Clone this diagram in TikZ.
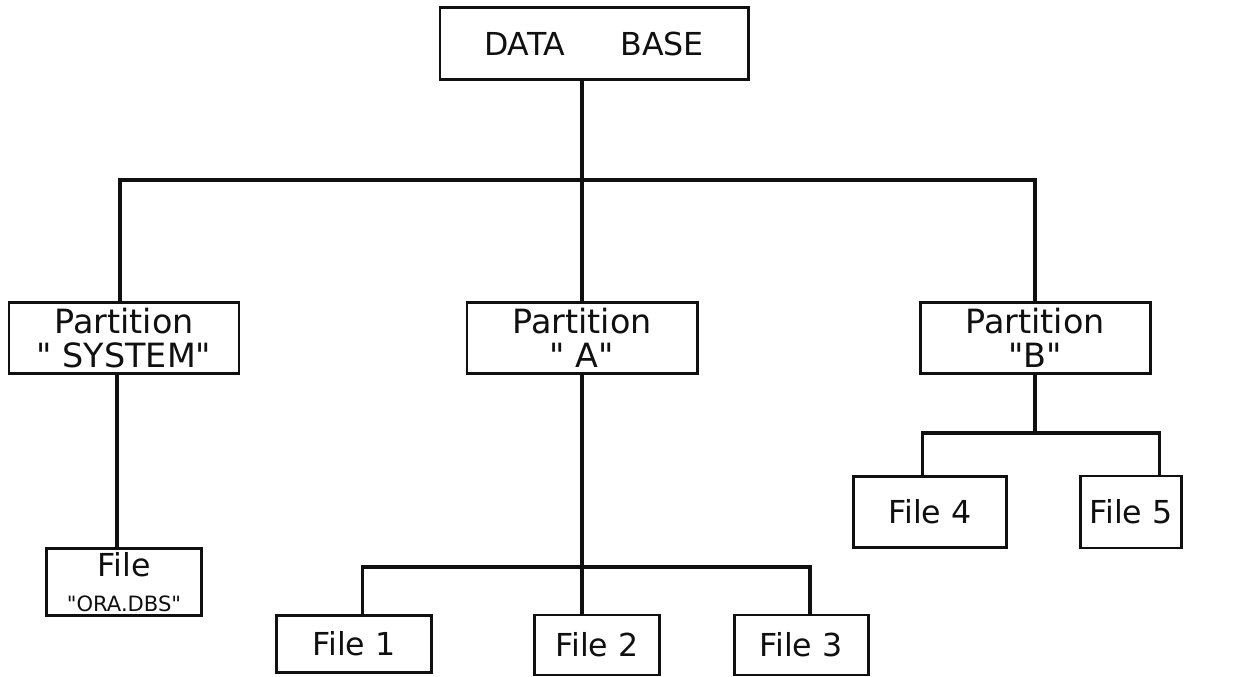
\documentclass[tikz,border=0pt]{standalone}
\usepackage{fontspec}
\newfontfamily\handfont{DejaVu Sans}
\usepackage{tikz}
\usetikzlibrary{positioning}
\usepackage{xcolor}
\definecolor{ink}{HTML}{101010}
\tikzset{
  every node/.style={font=\handfont\fontsize{18}{20}\selectfont,text=ink},
  box/.style={draw=ink,line width=1.7pt,fill=white,align=center,inner sep=2pt},
  dbbox/.style={box,minimum width=61.6mm,minimum height=14.4mm},
  partbox/.style={box,minimum width=46mm,minimum height=14.2mm,font=\handfont\fontsize{19}{19}\selectfont},
  filebox/.style={box,minimum height=12mm},
  link/.style={draw=ink,line width=1.8pt},
}
\newcommand{\smalltag}[1]{{\fontsize{12}{14}\selectfont #1}}

\begin{document}
\begin{tikzpicture}[x=0.2mm,y=-0.2mm]
\useasboundingbox (0,0) rectangle (1244,677);

% root and partitions
\node[dbbox] (db) at (594,44) {DATA\hspace{11mm}BASE};

\node[partbox] (psys) at (124,338) {Partition\\" SYSTEM"};
\node[partbox] (pa) at (582,338) {Partition\\" A"};
\node[partbox] (pb) at (1035,338) {Partition\\"B"};

\coordinate (topbar) at (582,180);
\coordinate (abar) at (582,567);
\coordinate (bbar) at (1035,433);

% files
\node[filebox,minimum width=31mm] (fora) at (124,582) {File\\\smalltag{"ORA.DBS"}};
\node[filebox,minimum width=31mm,minimum height=11.4mm] (f1) at (354,644) {File 1};
\node[filebox,minimum width=25mm] (f2) at (597,645) {File 2};
\node[filebox,minimum width=26.8mm] (f3) at (801,645) {File 3};
\node[filebox,minimum width=30.6mm,minimum height=14.2mm] (f4) at (930,512) {File 4};
\node[filebox,minimum width=20.2mm,minimum height=14.4mm] (f5) at (1131,512) {File 5};

% tree lines
\draw[link] (db.south -| topbar) -- (topbar);
\draw[link] ([xshift=-0.8mm]psys.north) |- (topbar) -| (pb.north);
\draw[link] (topbar) -- (pa.north);
\draw[link] ([xshift=-1.4mm]psys.south) -- ([xshift=-1.4mm]psys.south |- fora.north);
\draw[link] (pa.south) -- (abar);
\draw[link] ([xshift=1.7mm]f1.north) |- (abar) -| ([xshift=1.8mm]f3.north);
\draw[link] (abar) -- (abar |- f2.north);
\draw[link] (pb.south) -- (bbar);
\draw[link] ([xshift=-1.5mm]f4.north) |- (bbar) -| ([xshift=5.7mm]f5.north);

\end{tikzpicture}
\end{document}
